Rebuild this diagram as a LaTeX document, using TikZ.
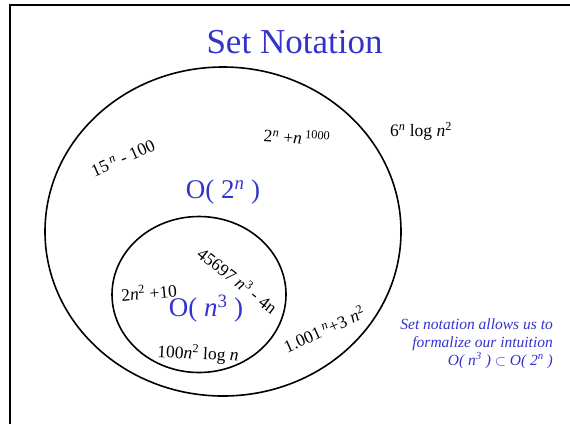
\documentclass[tikz,border=0pt]{standalone}
\usepackage{fontspec}
\setmainfont{Liberation Serif}
\definecolor{slideblue}{RGB}{51,51,204}
\begin{document}
\begin{tikzpicture}[x=1pt,y=-1pt,
  lbl/.style={inner sep=0pt, font=\fontsize{17.5}{19}\selectfont},
  bigo/.style={inner sep=0pt, text=slideblue, font=\fontsize{27}{30}\selectfont},
  setline/.style={line width=1.6pt}]
\useasboundingbox (0,0) rectangle (570,424);
\draw[line width=2pt] (10,424) -- (10,4.5) -- (570,4.5);
\node[inner sep=0pt, text=slideblue, font=\fontsize{35}{40}\selectfont] (title) at (294.5,42) {Set Notation};
\draw[setline] (223,231.5) ellipse [x radius=178, y radius=164.5];
\draw[setline] (199,294.5) ellipse [x radius=87, y radius=78];
\node[bigo] (o2n) at (223,192) {O( 2\textsuperscript{\textit{n}} )};
\node[bigo] (on3) at (206,309) {O( \textit{n}\textsuperscript{3} )};
\node[lbl, rotate=24] (a) at (123,158) {15\,\textsuperscript{\textit{n}} - 100};
\node[lbl, rotate=-4] (b) at (297,137) {2\textsuperscript{\textit{n}} +\textit{n}\,\textsuperscript{1000}};
\node[lbl] (c) at (421,131) {6\textsuperscript{\textit{n}} log \textit{n}\textsuperscript{2}};
\node[lbl, rotate=5] (d) at (149,292) {2\textit{n}\textsuperscript{2} +10};
\node[lbl, rotate=-38] (e) at (238,280) {45697 \textit{n}\textsuperscript{3} - 4n};
\node[lbl, rotate=-3] (f) at (198,354) {100\textit{n}\textsuperscript{2} log \textit{n}};
\node[lbl, rotate=24] (g) at (324,329) {1.001\,\textsuperscript{\textit{n}}+3 \textit{n}\textsuperscript{2}};
\node[inner sep=0pt, anchor=base east, text=slideblue, font=\fontsize{15.5}{18}\selectfont\itshape, align=right] (cap) at (553,365)
  {Set notation allows us to\\formalize our intuition\\O( \textit{n}\textsuperscript{3} ) $\subset$ O( 2\textsuperscript{\textit{n}} )};
\end{tikzpicture}
\end{document}
